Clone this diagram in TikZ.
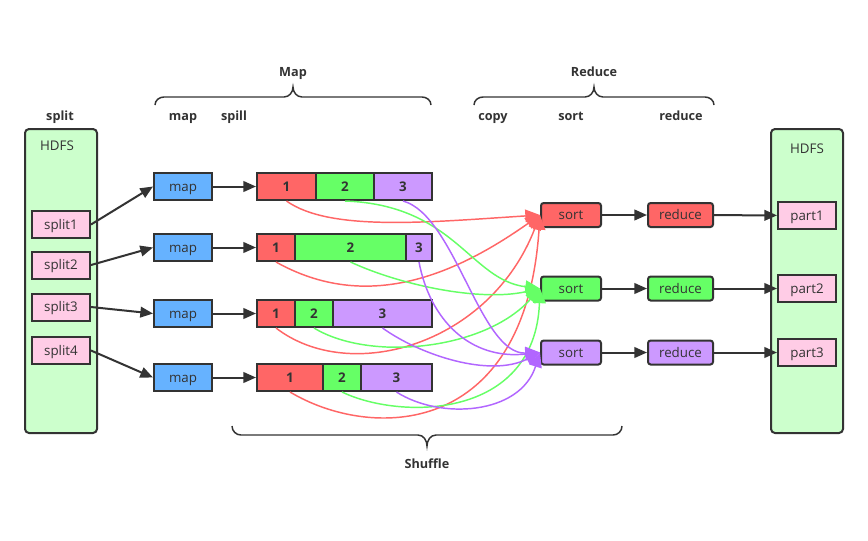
\documentclass[tikz,border=0pt]{standalone}
\usepackage{fontspec}
\setmainfont{Open Sans}
\usetikzlibrary{arrows.meta}
\definecolor{ink}{HTML}{333333}
\definecolor{cred}{HTML}{FF6666}
\definecolor{cgreen}{HTML}{66FF66}
\definecolor{cpurple}{HTML}{CC99FF}
\definecolor{lpurple}{HTML}{B266FF}
\definecolor{cblue}{HTML}{66B2FF}
\definecolor{cpink}{HTML}{FFCCE6}
\definecolor{clgreen}{HTML}{CCFFCC}
\tikzset{
  px/.style={x=0.75pt,y=0.75pt},
  box/.style={draw=ink,line width=1.5pt,inner sep=0pt,text=ink,font=\fontsize{10}{11}\selectfont,text height=0.85em,text depth=0.15em},
  hdfs/.style={box,fill=clgreen,rounded corners=3pt,minimum width=54pt,minimum height=228pt},
  splitbox/.style={box,fill=cpink,minimum width=43.5pt,minimum height=20.25pt},
  mapbox/.style={box,fill=cblue,minimum width=43.5pt,minimum height=20.25pt},
  seg/.style={box,minimum height=20.25pt,font=\fontsize{10}{11}\selectfont\bfseries},
  sortbox/.style={box,rounded corners=2pt,minimum width=45pt,minimum height=18pt},
  redbox/.style={box,rounded corners=2pt,minimum width=48.75pt,minimum height=18pt},
  lbl/.style={text=ink,font=\fontsize{9.5}{10}\selectfont\bfseries,text height=0.72em,text depth=0.22em},
  conn/.style={draw=ink,line width=1.5pt,-{Triangle[length=9.5pt,width=8pt]}},
  flow/.style={line width=1.1pt,-{Triangle[length=11pt,width=9.5pt]}},
  brace/.style={draw=ink,line width=1.1pt}
}
\begin{document}
\begin{tikzpicture}[px]
\useasboundingbox[fill=white] (0,0) rectangle (868,-540);
% labels
\node[lbl] (lsplit) at (60,-117) {split};
\node[lbl] (lmap) at (183,-117) {map};
\node[lbl] (lspill) at (234,-117) {spill};
\node[lbl] (lMap) at (293,-73) {Map};
\node[lbl] (lReduce) at (594,-73) {Reduce};
\node[lbl] (lcopy) at (493,-117) {copy};
\node[lbl] (lsort) at (571,-117) {sort};
\node[lbl] (lreduce) at (681,-117) {reduce};
\node[lbl] (lShuffle) at (427,-465) {Shuffle};
% braces
\draw[brace] (155,-105) to[out=90,in=180] (164,-97) -- (284,-97) to[out=0,in=-90] (293,-87) to[out=-90,in=180] (302,-97) -- (422,-97) to[out=0,in=90] (431,-105);
\draw[brace] (474,-105) to[out=90,in=180] (483,-97) -- (585,-97) to[out=0,in=-90] (594,-87) to[out=-90,in=180] (603,-97) -- (705,-97) to[out=0,in=90] (714,-105);
\draw[brace] (232,-426) to[out=-90,in=180] (241,-435) -- (418,-435) to[out=0,in=90] (427,-446) to[out=90,in=180] (436,-435) -- (613,-435) to[out=0,in=-90] (622,-426);
% HDFS containers
\node[hdfs] (hdfsL) at (61,-281) {};
\node[text=ink,font=\fontsize{10}{11}\selectfont,anchor=north] (hdfsLt) at (57,-136) {HDFS};
\node[hdfs] (hdfsR) at (807,-281) {};
\node[text=ink,font=\fontsize{10}{11}\selectfont,anchor=north] (hdfsRt) at (807,-139) {HDFS};
% splits
\node[splitbox] (s1) at (61,-224.5) {split1};
\node[splitbox] (s2) at (61,-265) {split2};
\node[splitbox] (s3) at (61,-307) {split3};
\node[splitbox] (s4) at (61,-350.5) {split4};
% maps
\node[mapbox] (m1) at (183,-186.5) {map};
\node[mapbox] (m2) at (183,-247.5) {map};
\node[mapbox] (m3) at (183,-313.5) {map};
\node[mapbox] (m4) at (183,-377.5) {map};
% spill bars
\node[seg,fill=cred,minimum width=44.25pt] (a1) at (286.5,-186.5) {1};
\node[seg,fill=cgreen,minimum width=43.5pt] (a2) at (345,-186.5) {2};
\node[seg,fill=cpurple,minimum width=43.5pt] (a3) at (403,-186.5) {3};
\node[seg,fill=cred,minimum width=28.5pt] (b1) at (276,-247.5) {1};
\node[seg,fill=cgreen,minimum width=83.25pt] (b2) at (350.5,-247.5) {2};
\node[seg,fill=cpurple,minimum width=19.5pt] (b3) at (419,-247.5) {3};
\node[seg,fill=cred,minimum width=28.5pt] (c1) at (276,-313.5) {1};
\node[seg,fill=cgreen,minimum width=28.5pt] (c2) at (314,-313.5) {2};
\node[seg,fill=cpurple,minimum width=74.25pt] (c3) at (382.5,-313.5) {3};
\node[seg,fill=cred,minimum width=49.5pt] (d1) at (290,-377.5) {1};
\node[seg,fill=cgreen,minimum width=28.5pt] (d2) at (342,-377.5) {2};
\node[seg,fill=cpurple,minimum width=53.25pt] (d3) at (396.5,-377.5) {3};
% sort / reduce / parts
\node[sortbox,fill=cred] (t1) at (571,-215) {sort};
\node[sortbox,fill=cgreen] (t2) at (571,-288.5) {sort};
\node[sortbox,fill=cpurple] (t3) at (571,-352.5) {sort};
\node[redbox,fill=cred] (r1) at (680.5,-215) {reduce};
\node[redbox,fill=cgreen] (r2) at (680.5,-288.5) {reduce};
\node[redbox,fill=cpurple] (r3) at (680.5,-352.5) {reduce};
\node[splitbox] (p1) at (807,-215.5) {part1};
\node[splitbox] (p2) at (807,-288.5) {part2};
\node[splitbox] (p3) at (807,-352.5) {part3};
% black connectors
\draw[conn] (s1.east) -- (m1.west);
\draw[conn] (s2.east) -- (m2.west);
\draw[conn] (s3.east) -- (m3.west);
\draw[conn] (s4.east) -- (m4.west);
\draw[conn] (m1) -- (a1);
\draw[conn] (m2) -- (b1);
\draw[conn] (m3) -- (c1);
\draw[conn] (m4) -- (d1);
\foreach \i in {1,2,3}{
  \draw[conn] (t\i) -- (r\i);
  \draw[conn] (r\i) -- (p\i);
}
% shuffle flows
\draw[flow,draw=cred] (a1.south) .. controls (330,-232) and (430,-222) .. (t1.west);
\draw[flow,draw=cred] (b1.south) .. controls (367,-313) and (455,-275) .. (t1.west);
\draw[flow,draw=cred] (c1.south) .. controls (350,-385) and (490,-345) .. (t1.west);
\draw[flow,draw=cred] (d1.south) .. controls (370,-440) and (525,-440) .. (t1.west);
\draw[flow,draw=cgreen] (a2.south) .. controls (455,-205) and (470,-280) .. (t2.west);
\draw[flow,draw=cgreen] (b2.south) .. controls (400,-285) and (480,-302) .. (t2.west);
\draw[flow,draw=cgreen] (c2.south) .. controls (370,-362) and (485,-350) .. (t2.west);
\draw[flow,draw=cgreen] (d2.south) .. controls (400,-420) and (535,-420) .. (t2.west);
\draw[flow,draw=lpurple] (a3.south) .. controls (455,-215) and (480,-355) .. (t3.west);
\draw[flow,draw=lpurple] (b3.south) .. controls (430,-320) and (470,-360) .. (t3.west);
\draw[flow,draw=lpurple] (c3.south) .. controls (420,-355) and (490,-378) .. (t3.west);
\draw[flow,draw=lpurple] (d3.south) .. controls (440,-420) and (520,-415) .. (t3.west);
\end{tikzpicture}
\end{document}
